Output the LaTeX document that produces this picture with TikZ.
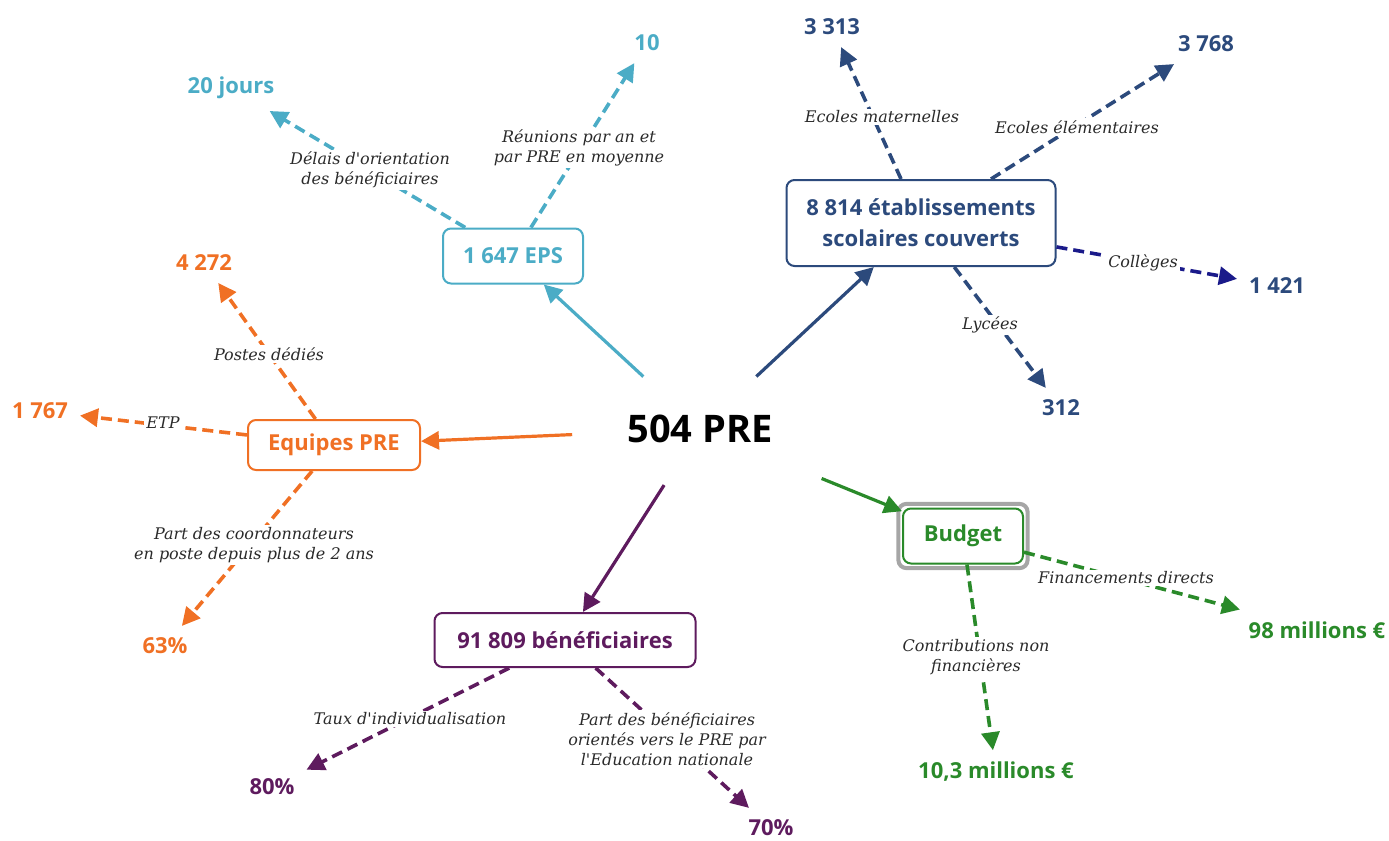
\documentclass[tikz,border=0pt]{standalone}
\usepackage{fontspec}
\newfontfamily\opensans{Open Sans}
\newfontfamily\labfont{DejaVu Serif}
\usepackage{xcolor}
\usepackage{tikz}
\usetikzlibrary{arrows.meta, positioning, shapes.geometric, fit}

\definecolor{epsteal}{HTML}{4BACC6}
\definecolor{etabblue}{HTML}{2C4A7C}
\definecolor{collnavy}{HTML}{1A1A8A}
\definecolor{equorange}{HTML}{F07024}
\definecolor{budgreen}{HTML}{2A8A2A}
\definecolor{benpurple}{HTML}{5E1B5E}
\definecolor{framegray}{HTML}{A6A6A6}
\definecolor{labgray}{HTML}{2A2A2A}

\begin{document}
\begin{tikzpicture}[x=0.5pt,y=-0.5pt,>={Triangle[length=9pt,width=9pt]},
  box/.style={draw,rounded corners=4pt,line width=1pt,fill=white,align=center,
    inner sep=2pt,font=\opensans\bfseries\fontsize{11}{15.5}\selectfont},
  value/.style={inner sep=1pt,outer sep=5pt,font=\opensans\bfseries\fontsize{11}{13}\selectfont},
  lab/.style={fill=white,inner sep=1pt,align=center,text=labgray,
    font=\labfont\itshape\fontsize{8}{10}\selectfont},
  link/.style={->,line width=1.6pt},
  sublink/.style={->,line width=1.8pt,dash pattern=on 5.5pt off 3pt}]

  \useasboundingbox (0,0) rectangle (1389,841);

  % centre
  \node[ellipse,minimum width=128pt,minimum height=58pt,inner sep=0pt,
    font=\opensans\bfseries\fontsize{19}{22}\selectfont] (pre) at (700,429) {504 PRE};

  % the five boxes
  \node[box,draw=epsteal,text=epsteal,minimum width=70pt,minimum height=27.5pt] (eps) at (513,256) {1~647 EPS};
  \node[box,draw=etabblue,text=etabblue,minimum width=134.5pt,minimum height=43pt] (etab) at (921,223)
    {8~814 établissements\\scolaires couverts};
  \node[box,draw=equorange,text=equorange,minimum width=86pt,minimum height=25pt] (equipes) at (334,445) {Equipes PRE};
  \node[box,draw=budgreen,text=budgreen,minimum width=60pt,minimum height=27.5pt] (budget) at (963,536) {Budget};
  \node[draw=framegray,line width=2pt,rounded corners=4pt,inner sep=1.8pt,fit=(budget)] (budgetframe) {};
  \node[box,draw=benpurple,text=benpurple,minimum width=130.5pt,minimum height=27pt] (benef) at (565,640) {91~809 bénéficiaires};

  % figures
  \node[value,text=epsteal] (jours) at (231,88) {20 jours};
  \node[value,text=epsteal] (reunions) at (647,43) {10};
  \node[value,text=etabblue] (mat) at (832,27) {3~313};
  \node[value,text=etabblue] (elem) at (1206,44) {3~768};
  \node[value,text=etabblue] (coll) at (1277,286) {1~421};
  \node[value,text=etabblue] (lyc) at (1061,408) {312};
  \node[value,text=equorange] (postes) at (204,263) {4~272};
  \node[value,text=equorange] (etp) at (40,411) {1~767};
  \node[value,text=equorange] (coord) at (165,646) {63\%};
  \node[value,text=benpurple] (indiv) at (272,787) {80\%};
  \node[value,text=benpurple] (orient) at (771,828) {70\%};
  \node[value,text=budgreen] (direct) at (1317,630) {98 millions €};
  \node[value,text=budgreen] (contrib) at (996,772) {10,3 millions €};

  % from the centre
  \draw[link,epsteal] (pre) -- (eps);
  \draw[link,etabblue] (pre) -- (etab);
  \draw[link,equorange] (pre) -- (equipes);
  \draw[link,benpurple] (pre) -- (benef);
  \draw[link,budgreen,shorten <=14pt] (pre) -- (budget);

  % to the figures
  \draw[sublink,epsteal] (eps) -- (jours);
  \draw[sublink,epsteal] (eps) -- (reunions);
  \draw[sublink,etabblue] (etab) -- (mat);
  \draw[sublink,etabblue] (etab) -- (elem);
  \draw[sublink,collnavy] (etab) -- (coll);
  \draw[sublink,etabblue] (etab) -- (lyc);
  \draw[sublink,equorange] (equipes) -- (postes);
  \draw[sublink,equorange] (equipes) -- (etp);
  \draw[sublink,equorange] (equipes) -- (coord);
  \draw[sublink,benpurple] (benef) -- (indiv);
  \draw[sublink,benpurple] (benef) -- (orient);
  \draw[sublink,budgreen] (budget) -- (direct);
  \draw[sublink,budgreen] (budget) -- (contrib);

  % labels on the dashed links
  \node[lab] (ldelais) at (370,170) {Délais d'orientation\\des bénéficiaires};
  \node[lab] (lreunions) at (579,148) {Réunions par an et\\par PRE en moyenne};
  \node[lab] (lmat) at (882,117) {Ecoles maternelles};
  \node[lab] (lelem) at (1077,127) {Ecoles élémentaires};
  \node[lab] (lcoll) at (1143,263) {Collèges};
  \node[lab] (llyc) at (990,325) {Lycées};
  \node[lab] (lpostes) at (269,354) {Postes dédiés};
  \node[lab] (letp) at (163,423) {ETP};
  \node[lab] (lcoord) at (254,545) {Part des coordonnateurs\\en poste depuis plus de 2 ans};
  \node[lab] (lindiv) at (410,719) {Taux d'individualisation};
  \node[lab] (lorient) at (667,739) {Part des bénéficiaires\\orientés vers le PRE par\\l'Education nationale};
  \node[lab] (ldirect) at (1126,578) {Financements directs};
  \node[lab] (lcontrib) at (976,657) {Contributions non\\financières};
\end{tikzpicture}
\end{document}
